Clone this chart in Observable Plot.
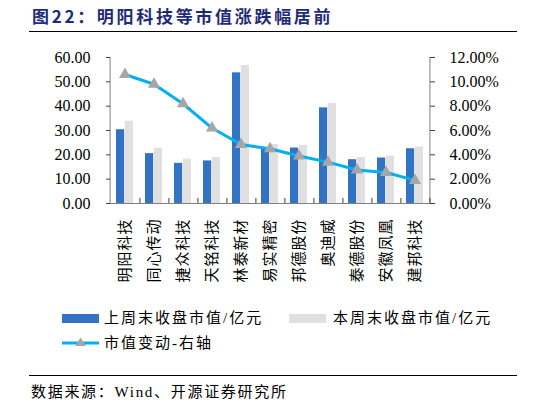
<!DOCTYPE html>
<html>
<head>
<meta charset="utf-8">
<script src="https://cdn.jsdelivr.net/npm/d3@7"></script>
<script src="https://cdn.jsdelivr.net/npm/@observablehq/plot@0.6"></script>
<style>
  body { margin: 0; background: #fff; }
  #wrap { position: relative; width: 546px; height: 405px; overflow: hidden; font-family: "Liberation Serif", "Noto Sans CJK SC", serif; }
  .title { position: absolute; left: 32px; top: 5px; font-family: "Noto Sans CJK SC"; font-weight: bold; font-size: 17px; line-height: 22px; color: #1f2b78; letter-spacing: 2.7px; white-space: nowrap; }
  .hr { position: absolute; left: 29px; width: 488px; height: 1px; background: #000; }
  #chart { position: absolute; left: 0; top: 40px; }
  .leg { position: absolute; font-size: 15px; line-height: 18px; letter-spacing: 2px; white-space: nowrap; color: #000; }
  .sw { position: absolute; width: 37px; height: 9px; }
  .src { position: absolute; left: 31px; top: 382px; font-size: 15px; line-height: 20px; letter-spacing: 1.7px; white-space: nowrap; }
</style>
</head>
<body>
<div id="wrap">
  <div class="title">图22：明阳科技等市值涨跌幅居前</div>
  <div class="hr" style="top:31px"></div>
  <div id="chart"></div>
  <div class="sw" style="left:62px; top:314px; background:#3273c4"></div>
  <div class="leg" style="left:104px; top:309px">上周末收盘市值/亿元</div>
  <div class="sw" style="left:289px; top:314px; background:#e0e0e0"></div>
  <div class="leg" style="left:333px; top:309px">本周末收盘市值/亿元</div>
  <svg style="position:absolute; left:62px; top:335px" width="38" height="16">
    <line x1="0" y1="8" x2="37" y2="8" stroke="#00b0f0" stroke-width="3"></line>
    <path d="M18.5,2.5 L24,11 L13,11 Z" fill="#a6a6a6"></path>
  </svg>
  <div class="leg" style="left:104px; top:334px">市值变动-右轴</div>
  <div class="hr" style="top:375px"></div>
  <div class="src">数据来源：Wind、开源证券研究所</div>
</div>
<script>
const cats = ["明阳科技", "同心传动", "捷众科技", "天铭科技", "林泰新材", "易实精密", "邦德股份", "奥迪威", "泰德股份", "安徽凤凰", "建邦科技"];
const lastWeek = [30.3, 20.5, 16.5, 17.5, 53.7, 23.0, 22.8, 39.3, 18.0, 18.7, 22.5];
const thisWeek = [33.8, 22.7, 18.2, 18.9, 56.7, 24.2, 23.9, 41.1, 18.9, 19.5, 23.2];
const changePct = [10.6, 9.8, 8.2, 6.2, 4.85, 4.5, 3.9, 3.4, 2.75, 2.55, 1.9];
const leftTicks = [0, 10, 20, 30, 40, 50, 60];
const rightTicks = [0, 2, 4, 6, 8, 10, 12];

const rows = cats.map((c, i) => ({name: c, last: lastWeek[i], cur: thisWeek[i], pct: changePct[i]}));
// right axis: 12% sits where 60 sits on the left
const k = 60 / 12;

const W = 546, mL = 106, mR = 112;
const step = (W - mL - mR) / cats.length;

const chart = Plot.plot({
  width: W,
  height: 250,
  marginTop: 17,
  marginBottom: 87,
  marginLeft: mL,
  marginRight: mR,
  style: {fontFamily: '"Liberation Serif", "Noto Sans CJK SC", serif', fontSize: "16px", color: "#000", background: "#fff"},
  x: {domain: cats, paddingInner: 0.41, paddingOuter: 0.205, label: null},
  y: {domain: [0, 60], label: null},
  marks: [
    Plot.barY(rows, {x: "name", y: "last", fill: "#3273c4", insetRight: 8.8}),
    Plot.barY(rows, {x: "name", y: "cur", fill: "#e0e0e0", insetLeft: 8.8}),
    Plot.ruleY([0], {stroke: "#808080"}),
    Plot.ruleX([cats[0]], {x: d => d, y1: 0, y2: 60, dx: -step / 2, stroke: "#808080"}),
    Plot.ruleX([cats[cats.length - 1]], {x: d => d, y1: 0, y2: 60, dx: step / 2, stroke: "#808080"}),
    Plot.ruleX(cats, {x: d => d, y1: 0, y2: 0, insetTop: -5, dx: step / 2, stroke: "#404040"}),
    Plot.axisY({anchor: "left", ticks: leftTicks, tickFormat: d => d.toFixed(2), tickSize: -4, tickPadding: 20, fontSize: 16, stroke: "#404040"}),
    Plot.axisY({anchor: "right", ticks: rightTicks.map(t => t * k), tickFormat: d => (d / k).toFixed(2) + "%", tickSize: -5, tickPadding: 20, fontSize: 16, stroke: "#404040"}),
    Plot.axisX({anchor: "bottom", tickRotate: -90, tickSize: 0, tickPadding: 15, fontSize: 15, fontFamily: "Noto Sans CJK SC"}),
    Plot.line(rows, {x: "name", y: d => d.pct * k, stroke: "#00b0f0", strokeWidth: 3}),
    Plot.dot(rows, {x: "name", y: d => d.pct * k, symbol: "triangle", r: 4.5, fill: "#a6a6a6", stroke: "none"})
  ]
});

d3.select(chart).selectAll("[aria-label='x-axis tick label'] text").style("letter-spacing", "1px");
d3.select("#chart").append(() => chart);
</script>
</body>
</html>
